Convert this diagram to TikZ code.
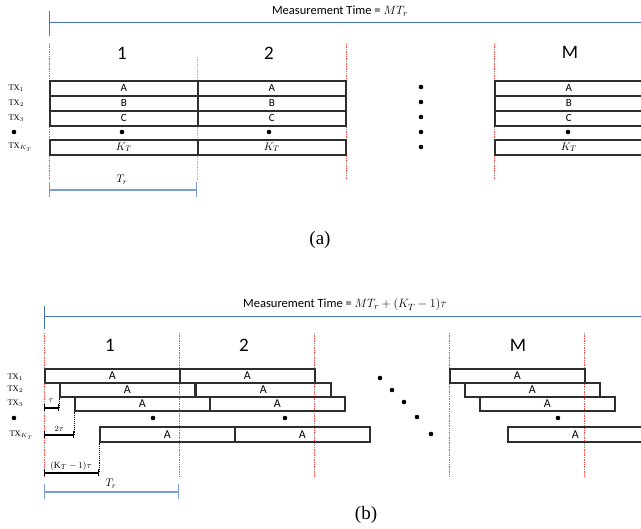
\documentclass[tikz,border=0pt]{standalone}
\usepackage{fontspec}
\setmainfont{Carlito}
\newfontfamily\capfont{Liberation Serif}
\usetikzlibrary{arrows.meta}
\definecolor{bblue}{HTML}{4472C4}
\definecolor{lblue}{HTML}{7C9CD6}
\definecolor{rred}{HTML}{FF4A4A}
\definecolor{edge}{HTML}{2E2E2E}
\newcommand{\txlab}[1]{{\capfont TX}$_{#1}$}
\begin{document}
\begin{tikzpicture}[x=1pt,y=-1pt,
  boxa/.style={draw=edge, line width=1.6pt, inner sep=0pt, minimum width=148pt, minimum height=15pt, anchor=north west, font=\fontsize{11}{12}\selectfont},
  boxb/.style={draw=edge, line width=1.6pt, inner sep=0pt, minimum width=135pt, minimum height=14pt, anchor=north west, font=\fontsize{12}{13}\selectfont},
  blk/.style={circle, fill=black, inner sep=0pt, minimum size=4.6pt},
  sep/.style={draw=rred, line width=0.7pt, densely dotted},
  bl/.style={draw=bblue, line width=1pt},
  blbar/.style={draw=lblue, line width=1.2pt, {Bar[width=15pt,line width=1.2pt]}-{Bar[width=15pt,line width=1.2pt]}},
  dim/.style={draw=black, line width=1.1pt, {Bar[width=7pt]}-{Bar[width=7pt]}},
  guide/.style={draw=black, line width=0.9pt, densely dotted},
  period/.style={font=\fontsize{19}{20}\selectfont},
  txl/.style={anchor=west, font=\fontsize{8.5}{9}\selectfont},
  mtl/.style={font=\fontsize{12.5}{13}\selectfont},
  captxt/.style={font=\capfont\fontsize{19}{20}\selectfont}
]
\clip (0,0) rectangle (641,529);

% ================= (a) =================
\coordinate (mta-top) at (49,11);
\coordinate (mta-bot) at (49,36);
\coordinate (mta-mid) at (49,23);
\coordinate (mta-end) at (645,23);
\draw[bl] (mta-top) -- (mta-bot);
\draw[bl] (mta-mid) -- (mta-end);
\node[mtl] (mta) at (340,11) {Measurement Time = $MT_r$};

% red separators
\coordinate (ra1t) at (49,44);  \coordinate (ra1b) at (49,180);
\coordinate (ra2t) at (197,57); \coordinate (ra2b) at (197,180);
\coordinate (ra3t) at (346,44); \coordinate (ra3b) at (346,180);
\coordinate (ra4t) at (494,44); \coordinate (ra4b) at (494,180);
\draw[sep] (ra1t) -- (ra1b);
\draw[sep, draw opacity=0.6] (ra2t) -- (ra2b);
\draw[sep] (ra3t) -- (ra3b);
\draw[sep] (ra4t) -- (ra4b);

\node[period] (pa1) at (122,53) {1};
\node[period] (pa2) at (269,53) {2};
\node[period] (paM) at (570,52) {M};

% boxes
\node[boxa] (a11) at (49,80) {A};
\node[boxa] (a12) at (197,80) {A};
\node[boxa] (a1M) at (494,80) {A};
\node[boxa] (a21) at (49,95) {B};
\node[boxa] (a22) at (197,95) {B};
\node[boxa] (a2M) at (494,95) {B};
\node[boxa] (a31) at (49,110) {C};
\node[boxa] (a32) at (197,110) {C};
\node[boxa] (a3M) at (494,110) {C};
\node[boxa] (aK1) at (49,139) {$K_T$};
\node[boxa] (aK2) at (197,139) {$K_T$};
\node[boxa] (aKM) at (494,139) {$K_T$};

\node[blk] (ad1) at (122,132) {};
\node[blk] (ad2) at (269,132) {};
\node[blk] (adM) at (568,132) {};
\node[blk] (adL) at (14,132) {};

\node[blk] (am1) at (421,87) {};
\node[blk] (am2) at (421,102) {};
\node[blk] (am3) at (421,117) {};
\node[blk] (am4) at (421,132) {};
\node[blk] (am5) at (421,147) {};

\node[txl] (atx1) at (5,88) {\txlab{1}};
\node[txl] (atx2) at (5,103) {\txlab{2}};
\node[txl] (atx3) at (5,118) {\txlab{3}};
\node[txl] (atxK) at (5,147) {\txlab{K_T}};

\coordinate (tra-l) at (49,190);
\coordinate (tra-r) at (197,190);
\draw[blbar] (tra-l) -- (tra-r);
\node[font=\fontsize{11}{12}\selectfont] (tra) at (122,180) {$T_r$};

\node[captxt] (capa) at (320,240) {(a)};

% ================= (b) =================
\coordinate (mtb-top) at (44,306);
\coordinate (mtb-bot) at (44,329);
\coordinate (mtb-mid) at (44,317);
\coordinate (mtb-end) at (645,317);
\draw[bl] (mtb-top) -- (mtb-bot);
\draw[bl] (mtb-mid) -- (mtb-end);
\node[mtl] (mtb) at (345,305) {Measurement Time = $MT_r + (K_T - 1)\tau$};

\foreach \x [count=\i] in {44,179,314,449,584}{
  \coordinate (rb\i t) at (\x,333);
  \coordinate (rb\i b) at (\x,477);
  \draw[sep] (rb\i t) -- (rb\i b);
}

\node[period] (pb1) at (110,345) {1};
\node[period] (pb2) at (244,345) {2};
\node[period] (pbM) at (518,345) {M};

\node[boxb] (b11) at (44,368) {A};
\node[boxb] (b12) at (179,368) {A};
\node[boxb] (b1M) at (449,368) {A};
\node[boxb] (b21) at (59,382) {A};
\node[boxb] (b22) at (195,382) {A};
\node[boxb] (b2M) at (464,382) {A};
\node[boxb] (b31) at (74,396) {A};
\node[boxb] (b32) at (209,396) {A};
\node[boxb] (b3M) at (479,396) {A};
\node[boxb, minimum height=15pt] (bK1) at (99,426) {A};
\node[boxb, minimum height=15pt] (bK2) at (234,426) {A};
\node[boxb, minimum height=15pt] (bKM) at (507,426) {A};

\node[blk] (bd1) at (153,418) {};
\node[blk] (bd2) at (285,418) {};
\node[blk] (bdM) at (558,418) {};
\node[blk] (bdL) at (14,418) {};

\node[blk] (bm1) at (380,378) {};
\node[blk] (bm2) at (392,390) {};
\node[blk] (bm3) at (404,402) {};
\node[blk] (bm4) at (417,417) {};
\node[blk] (bm5) at (431,434) {};

\node[txl] (btx1) at (4,377) {\txlab{1}};
\node[txl] (btx2) at (4,389) {\txlab{2}};
\node[txl] (btx3) at (4,403) {\txlab{3}};
\node[txl] (btxK) at (6,435) {\txlab{K_T}};

% delay dimensions
\coordinate (d1l) at (44,408); \coordinate (d1r) at (59,408);
\coordinate (d2l) at (44,435); \coordinate (d2r) at (74,435);
\coordinate (d3l) at (44,473); \coordinate (d3r) at (99,473);
\draw[guide] (b21.south west) -- (d1r);
\draw[guide] (b31.south west) -- (d2r);
\draw[guide] (bK1.south west) -- (d3r);
\draw[dim] (d1l) -- (d1r);
\draw[dim] (d2l) -- (d2r);
\draw[dim] (d3l) -- (d3r);
\node[font=\fontsize{8.5}{9}\selectfont] (t1) at (51,401) {$\tau$};
\node[font=\fontsize{8.5}{9}\selectfont] (t2) at (59,429) {$2\tau$};
\node[font=\fontsize{9.5}{10}\selectfont] (t3) at (71,466) {$(${\capfont K}$_T-1)\tau$};

\coordinate (trb-l) at (44,492);
\coordinate (trb-r) at (179,492);
\draw[blbar] (trb-l) -- (trb-r);
\node[font=\fontsize{11}{12}\selectfont] (trb) at (111,484) {$T_r$};

\node[captxt] (capb) at (366,515) {(b)};
\end{tikzpicture}
\end{document}
